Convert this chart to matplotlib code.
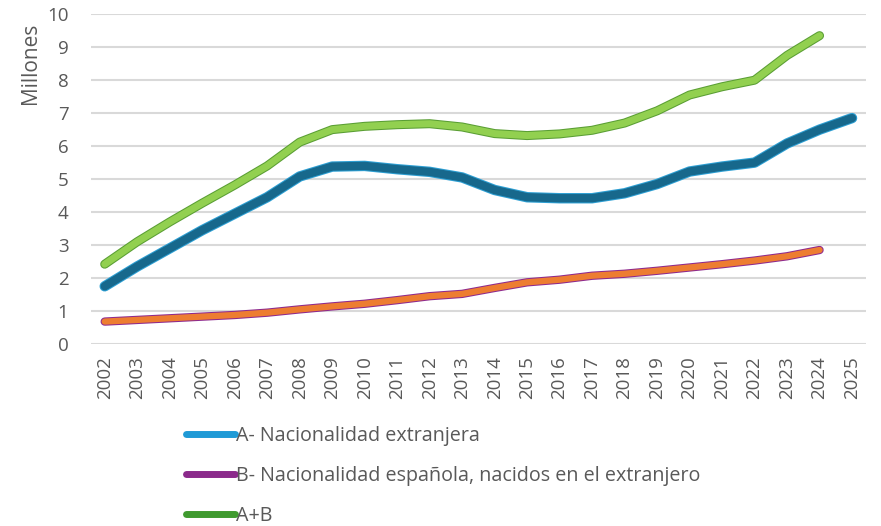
import matplotlib.pyplot as plt
import matplotlib.patheffects as pe
from matplotlib.lines import Line2D
import numpy as np

plt.rcParams['font.family'] = ['Open Sans', 'DejaVu Sans']

years = [str(y) for y in range(2002, 2026)]

# A - Nacionalidad extranjera (millones)
extranjera = [1.75, 2.35, 2.90, 3.45, 3.95, 4.45, 5.08, 5.38, 5.40, 5.30,
              5.22, 5.05, 4.67, 4.45, 4.42, 4.42, 4.57, 4.85, 5.23, 5.38,
              5.50, 6.08, 6.50, 6.85]
# B - Nacionalidad espanola, nacidos en el extranjero
espanola_ext = [0.68, 0.73, 0.78, 0.83, 0.88, 0.95, 1.05, 1.14, 1.22, 1.33,
                1.45, 1.52, 1.70, 1.87, 1.95, 2.07, 2.13, 2.22, 2.32, 2.42,
                2.53, 2.66, 2.85]
# A+B
total = [2.42, 3.10, 3.70, 4.27, 4.82, 5.40, 6.12, 6.50, 6.60, 6.65,
         6.68, 6.58, 6.38, 6.32, 6.37, 6.48, 6.70, 7.07, 7.55, 7.80,
         8.00, 8.75, 9.35]

labels = ['A- Nacionalidad extranjera',
          'B- Nacionalidad española, nacidos en el extranjero',
          'A+B']

grey = '#595959'
fig = plt.figure(figsize=(8.81, 5.26), dpi=100)
ax = fig.add_axes([0.103, 0.346, 0.880, 0.627])

x = np.arange(len(years))

ax.plot(x[:len(extranjera)], extranjera, color='#17688c', lw=6,
        solid_capstyle='round', solid_joinstyle='round',
        path_effects=[pe.Stroke(linewidth=7.5, foreground='#2d9fd3'), pe.Normal()])
ax.plot(x[:len(espanola_ext)], espanola_ext, color='#ed7d31', lw=4.5,
        solid_capstyle='round', solid_joinstyle='round',
        path_effects=[pe.Stroke(linewidth=6, foreground='#8e2a8e'), pe.Normal()])
ax.plot(x[:len(total)], total, color='#92d050', lw=5,
        solid_capstyle='round', solid_joinstyle='round',
        path_effects=[pe.Stroke(linewidth=6.5, foreground='#5a9e34'), pe.Normal()])

ax.set_xlim(-0.43, 23.43)
ax.set_ylim(0, 10)
ax.set_yticks(range(0, 11))
ax.set_xticks(x)
ax.set_xticklabels(years, rotation=90)
ax.grid(axis='y', color='#d9d9d9', lw=1.5)
ax.set_axisbelow(True)
for s in ax.spines.values():
    s.set_visible(False)
ax.tick_params(axis='both', length=0, colors=grey, labelsize=13.5)
ax.tick_params(axis='y', pad=16)
ax.tick_params(axis='x', pad=9)

fig.text(30 / 881, 1 - 63 / 526, 'Millones', rotation=90, color=grey,
         fontsize=15, ha='center', va='center')

handles = [Line2D([], [], color='#1f9ad6', lw=5, solid_capstyle='round'),
           Line2D([], [], color='#8b2a8b', lw=5, solid_capstyle='round'),
           Line2D([], [], color='#3f9a2f', lw=5, solid_capstyle='round')]
leg = fig.legend(handles, labels, loc='upper left',
                 bbox_to_anchor=(186 / 881, 1 - 426 / 526), frameon=False,
                 fontsize=14.2, labelspacing=1.02, handlelength=2.5,
                 handletextpad=0.05, borderaxespad=0, borderpad=0)
for t in leg.get_texts():
    t.set_color(grey)

fig.savefig('out.png', dpi=100)
